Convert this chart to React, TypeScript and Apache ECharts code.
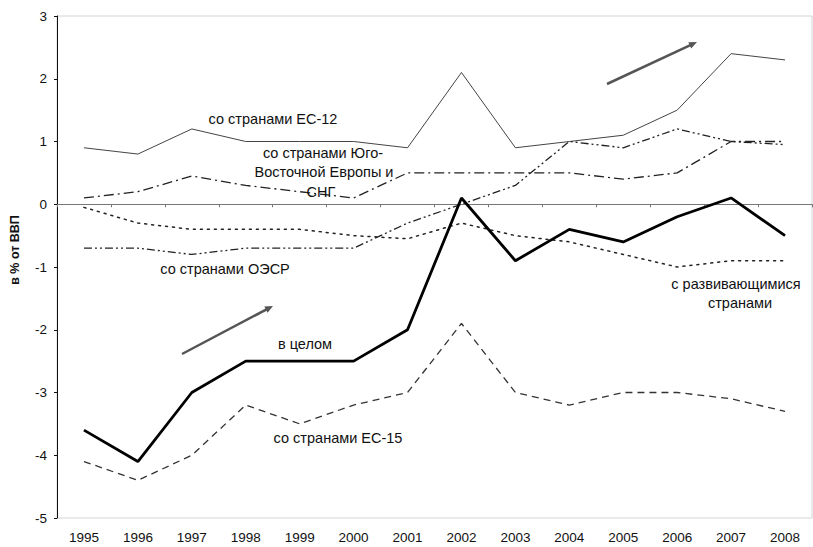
import React, { useEffect, useRef } from "react";
import * as echarts from "echarts";

const years = ["1995", "1996", "1997", "1998", "1999", "2000", "2001", "2002", "2003", "2004", "2005", "2006", "2007", "2008"];
const total = [-3.6, -4.1, -3.0, -2.5, -2.5, -2.5, -2.0, 0.1, -0.9, -0.4, -0.6, -0.2, 0.1, -0.5];
const eu15 = [-4.1, -4.4, -4.0, -3.2, -3.5, -3.2, -3.0, -1.9, -3.0, -3.2, -3.0, -3.0, -3.1, -3.3];
const eu12 = [0.9, 0.8, 1.2, 1.0, 1.0, 1.0, 0.9, 2.1, 0.9, 1.0, 1.1, 1.5, 2.4, 2.3];
const seeCis = [0.1, 0.2, 0.45, 0.3, 0.2, 0.1, 0.5, 0.5, 0.5, 0.5, 0.4, 0.5, 1.0, 1.0];
const oecd = [-0.7, -0.7, -0.8, -0.7, -0.7, -0.7, -0.3, 0.0, 0.3, 1.0, 0.9, 1.2, 1.0, 0.95];
const developing = [-0.05, -0.3, -0.4, -0.4, -0.4, -0.5, -0.55, -0.3, -0.5, -0.6, -0.8, -1.0, -0.9, -0.9];
const yTicks = [-5, -4, -3, -2, -1, 0, 1, 2, 3];

const FONT = "'Liberation Sans', Arial, sans-serif";

export default function App() {
  const ref = useRef<HTMLDivElement>(null);
  useEffect(() => {
    if (!ref.current) return;
    const chart = echarts.init(ref.current, undefined, { renderer: "svg" });
    const label = (text: string, x: number, y: number, opts: any = {}) => ({
      type: "text",
      x,
      y,
      rotation: opts.rotation || 0,
      style: {
        text,
        font: `${opts.bold ? "bold " : ""}${opts.size || 14.5}px ${FONT}`,
        fill: "#111",
        align: "center",
        verticalAlign: "middle",
      },
      z: 10,
    });
    const line = (name: string, data: number[], style: any, z = 2) => ({
      name,
      type: "line",
      data,
      symbol: "none",
      xAxisIndex: 0,
      lineStyle: style,
      z,
    });
    chart.setOption({
      animation: false,
      backgroundColor: "#fff",
      grid: { left: 57, right: 1, top: 16, bottom: 29, show: true, borderColor: "#d4d4d4", borderWidth: 1 },
      xAxis: [
        {
          type: "category",
          data: years,
          boundaryGap: true,
          axisLine: { show: false, onZero: false },
          axisTick: { show: false },
          axisLabel: { color: "#111", fontSize: 13.5, fontFamily: FONT, margin: 12, interval: 0 },
        },
        {
          type: "category",
          data: years,
          boundaryGap: true,
          position: "bottom",
          axisLine: { show: true, onZero: true, lineStyle: { color: "#777", width: 1 } },
          axisTick: { show: true, length: 3, lineStyle: { color: "#777" } },
          axisLabel: { show: false },
        },
      ],
      yAxis: {
        type: "value",
        min: -5,
        max: 3,
        interval: 1,
        axisLine: { show: true, lineStyle: { color: "#111", width: 1 } },
        axisTick: { show: true, length: 3, lineStyle: { color: "#111" } },
        splitLine: { show: false },
        axisLabel: {
          color: "#111",
          fontSize: 13.5,
          fontFamily: FONT,
          margin: 10,
          formatter: (v: number) => (yTicks.includes(v) ? String(v) : ""),
        },
      },
      series: [
        line("со странами ЕС-12", eu12, { color: "#444", width: 1, type: "solid" }),
        line("со странами Юго-Восточной Европы и СНГ", seeCis, { color: "#222", width: 1.3, type: [10, 4, 2, 4] }),
        line("со странами ОЭСР", oecd, { color: "#222", width: 1.3, type: [8, 3, 2, 3, 2, 3] }),
        line("с развивающимися странами", developing, { color: "#222", width: 1.5, type: [2, 5], cap: "round" }),
        line("со странами ЕС-15", eu15, { color: "#333", width: 1.3, type: [7, 5] }),
        line("в целом", total, { color: "#000", width: 2.8, type: "solid" }, 5),
      ],
      graphic: [
        label("в % от ВВП", 15, 250, { bold: true, size: 12.5, rotation: Math.PI / 2 }),
        label("со странами ЕС-12", 273, 119),
        label("со странами Юго-", 323, 153),
        label("Восточной Европы и", 324, 172),
        label("СНГ", 321, 192),
        label("со странами ОЭСР", 225, 269),
        label("в целом", 305, 344),
        label("со странами ЕС-15", 338, 438),
        label("с развивающимися", 736, 284),
        label("странами", 740, 303),
        { type: "line", shape: { x1: 182, y1: 354, x2: 268, y2: 308.6 }, style: { stroke: "#555", lineWidth: 2.5 } },
        { type: "polygon", shape: { points: [[273, 306], [267.5, 312.8], [264.3, 306.6]] }, style: { fill: "#555" } },
        { type: "line", shape: { x1: 607, y1: 84, x2: 692, y2: 44.3 }, style: { stroke: "#555", lineWidth: 2.5 } },
        { type: "polygon", shape: { points: [[697, 42], [691.2, 48.6], [688.3, 42.2]] }, style: { fill: "#555" } },
      ],
    });
    return () => chart.dispose();
  }, []);
  return <div ref={ref} style={{ width: 813, height: 547, position: "absolute", left: 0, top: 0 }} />;
}
